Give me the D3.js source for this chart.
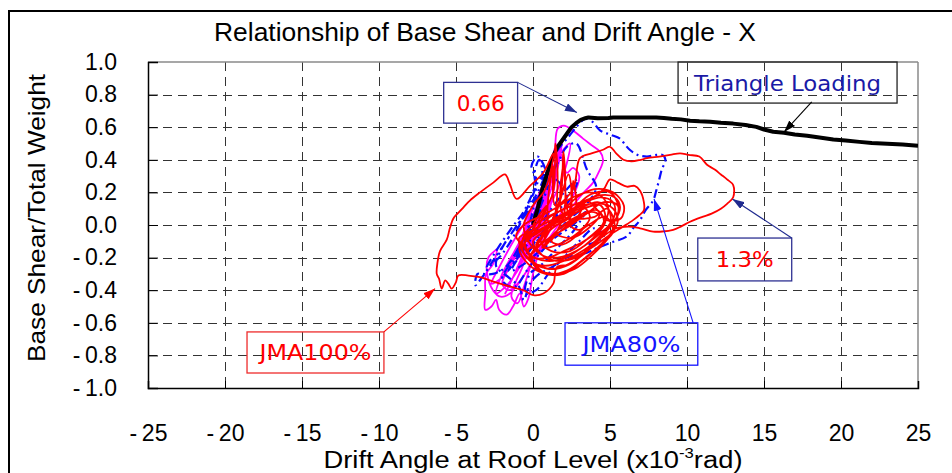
<!DOCTYPE html>
<html>
<head>
<meta charset="utf-8">
<script src="https://cdn.jsdelivr.net/npm/d3@7/dist/d3.min.js"></script>
<style>
  html, body { margin: 0; padding: 0; background: #fff; }
  svg { display: block; }
  text { font-family: "Liberation Sans", Arial, sans-serif; }
  .note { font-family: "DejaVu Sans", Verdana, sans-serif; }
</style>
</head>
<body>
<svg id="chart" width="952" height="473"></svg>
<script>
// Axis ticks
const xTicks = [-25, -20, -15, -10, -5, 0, 5, 10, 15, 20, 25];
const yTicks = [-1.0, -0.8, -0.6, -0.4, -0.2, 0.0, 0.2, 0.4, 0.6, 0.8, 1.0];

// Pushover curve under triangular lateral loading [drift (x10^-3 rad), base shear / weight]
const pushover = [
  [0, 0], [0.15, 0.05], [0.3, 0.1], [0.45, 0.16], [0.6, 0.22], [0.8, 0.28], [1.0, 0.34],
  [1.3, 0.42], [1.6, 0.48], [1.9, 0.52], [2.2, 0.56], [2.5, 0.6], [2.8, 0.625], [3.1, 0.645],
  [3.4, 0.655], [3.6, 0.66], [4.2, 0.655], [4.9, 0.657], [5.2, 0.66], [5.8, 0.66], [6.6, 0.66],
  [7.4, 0.66], [8.0, 0.66], [8.5, 0.657], [9.0, 0.652], [9.6, 0.648], [10.2, 0.64], [10.8, 0.636],
  [11.5, 0.634], [12.2, 0.627], [13.0, 0.622], [13.8, 0.614], [14.5, 0.602], [15.0, 0.586],
  [15.6, 0.572], [16.3, 0.566], [17.0, 0.555], [17.8, 0.547], [18.6, 0.537], [19.5, 0.524],
  [20.3, 0.518], [21.2, 0.51], [22.0, 0.503], [23.0, 0.499], [24.0, 0.494], [25.0, 0.486]
];

// JMA 100% response history
const jma100 = [
  [0, 0], [0.4, 0.06], [0.9, 0.12], [0.6, 0.04], [0, -0.06], [-0.4, -0.1], [-0.1, -0.04],
  [0.7, 0.08], [1.3, 0.2], [1.45, 0.5], [1.6, 0.28], [1.4, 0.05], [0.8, -0.08], [0.1, -0.16],
  [-0.3, -0.2], [0.3, -0.12], [1.2, 0.02], [1.8, 0.18], [1.97, 0.45], [2.1, 0.25], [2.0, 0.06],
  [1.4, -0.06], [0.6, -0.14], [0.9, -0.04], [1.6, 0.1], [2.3, 0.31], [2.5, 0.18], [2.2, 0.04],
  [1.8, 0.1], [2.0, 0.38], [2.15, 0.15], [2.4, 0.02], [2.6, 0.27], [2.7, 0.08], [1.1, 0.0],
  [1.3, 0.36], [1.45, 0.12],
  [2.6, 0.22], [3.05, 0.41], [3.8, 0.44], [4.5, 0.46], [5.0, 0.48], [5.4, 0.44], [5.87, 0.4],
  [6.4, 0.39], [7.0, 0.4], [7.4, 0.41], [8.2, 0.42], [8.9, 0.43], [9.55, 0.44], [10.1, 0.43],
  [10.8, 0.42], [11.3, 0.37], [11.8, 0.34], [12.2, 0.31], [12.6, 0.28], [13.0, 0.245],
  [13.0, 0.17], [12.6, 0.13], [12.2, 0.1], [11.6, 0.07], [11.0, 0.05], [10.2, 0.02],
  [9.6, -0.01], [9.1, -0.03], [8.4, -0.04], [7.8, -0.04], [6.95, -0.02], [6.2, -0.01],
  [5.4, -0.02], [4.4, -0.08], [3.2, -0.16], [2.0, -0.22], [0.8, -0.25], [-0.2, -0.22],
  [-0.7, -0.14], [-0.5, -0.05], [0.4, 0.02], [1.6, 0.08], [2.8, 0.13], [3.9, 0.17], [4.6, 0.22],
  [5.0, 0.28], [5.5, 0.26], [6.1, 0.235], [6.6, 0.24], [6.95, 0.21], [7.2, 0.14], [7.2, 0.09],
  [6.9, 0.06], [6.5, 0.03], [5.85, -0.01], [5.0, -0.06], [3.8, -0.14], [2.6, -0.2], [1.5, -0.22],
  [0.5, -0.18], [-0.3, -0.1], [-0.6, 0.0], [0.0, 0.12], [0.8, 0.22], [1.32, 0.44], [0.67, 0.32],
  [-0.2, 0.24], [-1.06, 0.16], [-1.5, 0.25], [-1.82, 0.31], [-2.58, 0.26], [-3.44, 0.2],
  [-4.1, 0.15], [-4.5, 0.11], [-4.9, 0.07], [-5.17, 0.04], [-5.4, -0.02], [-5.6, -0.09],
  [-6.04, -0.16], [-6.2, -0.23], [-6.25, -0.3], [-6.1, -0.33], [-5.93, -0.39], [-5.7, -0.34],
  [-5.5, -0.36], [-5.28, -0.39], [-5.0, -0.35], [-4.85, -0.31], [-4.2, -0.31], [-3.44, -0.32],
  [-2.8, -0.34], [-2.14, -0.36], [-1.4, -0.38], [-0.63, -0.4], [0.02, -0.43], [0.67, -0.42],
  [1.32, -0.36], [1.54, -0.26], [2.4, -0.24], [3.6, -0.14], [4.6, -0.04], [5.3, 0.06],
  [5.2, 0.14], [4.4, 0.17], [3.4, 0.14], [2.2, 0.08], [1.0, 0.02], [0.0, -0.03], [-0.9, -0.08],
  [-0.6, -0.17], [0.2, -0.24], [1.2, -0.27], [2.4, -0.24], [3.6, -0.15], [4.6, -0.05],
  [5.4, 0.04], [5.65, 0.11], [5.3, 0.17], [4.2, 0.18], [3.0, 0.12], [1.8, 0.05], [0.6, -0.02],
  [-0.5, -0.08], [-0.8, -0.12], [-0.4, -0.2], [0.6, -0.26], [1.8, -0.26], [3.0, -0.2],
  [4.2, -0.1], [5.1, 0.0], [5.6, 0.09], [5.0, 0.2], [3.8, 0.19], [2.6, 0.1], [1.4, 0.02],
  [0.3, -0.05], [-0.5, -0.1], [-0.2, -0.18], [0.9, -0.22], [2.1, -0.2], [3.3, -0.13],
  [4.5, -0.04], [5.4, 0.04], [5.5, 0.12], [4.6, 0.14], [3.5, 0.07], [2.3, -0.01], [1.2, -0.07],
  [0.3, -0.13], [-0.3, -0.15], [0.3, -0.27], [1.4, -0.3], [2.7, -0.27], [3.9, -0.18],
  [4.9, -0.08], [5.5, 0.02], [5.2, 0.1], [4.5, 0.13], [3.3, 0.1], [2.2, 0.04], [1.0, -0.04],
  [0.2, -0.12], [0.8, -0.2], [2.0, -0.22], [3.2, -0.18], [4.2, -0.1], [5.0, 0.0], [4.9, 0.1],
  [4.2, 0.14], [3.0, 0.1], [1.8, 0.04], [0.7, -0.04], [0.0, -0.1], [0.5, -0.18], [1.6, -0.2],
  [2.8, -0.16], [3.9, -0.08], [4.7, 0.02], [4.4, 0.12], [3.2, 0.12], [2.0, 0.05], [0.9, -0.02],
  [0.5, -0.1], [1.2, -0.16], [2.4, -0.16], [3.6, -0.08], [4.6, 0.02], [4.2, 0.09], [3.0, 0.06],
  [2.0, 0.0], [1.5, -0.05], [2.5, -0.08], [3.6, -0.02], [4.3, 0.06], [3.8, 0.08], [3.0, 0.04],
  [4.0, 0.05], [4.8, 0.1], [5.3, 0.0], [4.6, -0.1], [3.4, -0.2], [2.2, -0.28], [1.0, -0.3],
  [0.2, -0.25], [-0.4, -0.15], [-1.1, -0.07], [-0.6, 0.0], [0.4, 0.05], [1.4, 0.1], [2.6, 0.17],
  [3.6, 0.2], [4.4, 0.18], [4.9, 0.1], [4.4, -0.02], [3.3, -0.1], [2.0, -0.16], [1.0, -0.2],
  [0.0, -0.2], [-0.6, -0.12], [0.1, -0.05], [1.2, 0.0], [2.3, 0.05], [3.1, 0.12], [3.7, 0.05],
  [3.0, -0.05], [1.9, -0.12], [1.2, -0.1], [2.0, -0.02], [2.9, 0.05], [3.5, 0.15], [4.1, 0.1],
  [4.8, 0.03], [5.7, 0.04], [5.9, 0.12], [5.2, 0.2], [4.0, 0.22], [3.0, 0.18], [2.0, 0.1],
  [1.1, 0.05], [0.3, -0.02], [-0.4, -0.06], [-0.9, -0.14], [-0.3, -0.24], [0.8, -0.3],
  [2.0, -0.3], [3.2, -0.22], [4.4, -0.12], [5.2, -0.04], [4.7, 0.05], [3.6, 0.0], [2.6, -0.07],
  [1.6, -0.12], [0.7, -0.14], [1.4, -0.05], [2.4, 0.02], [3.3, 0.06], [2.4, 0.0], [3.0, -0.03],
  [3.6, 0.02]
];

// JMA 80% response history
const jma80 = [
  [0, 0], [0.5, 0.1], [0.2, 0.02], [-0.4, -0.1], [-0.9, -0.16], [-0.3, -0.06], [0.5, 0.12],
  [1.0, 0.24], [0.6, 0.14], [-0.2, -0.04], [-1.0, -0.2], [-1.6, -0.28], [-1.0, -0.18],
  [-0.2, 0.02], [0.2, 0.2], [0.1, 0.32], [0.4, 0.4], [0.6, 0.34], [0.5, 0.2], [0.0, 0.04],
  [-0.8, -0.12], [-1.8, -0.26], [-2.6, -0.3], [-3.3, -0.3], [-3.6, -0.3], [-3.75, -0.37],
  [-3.3, -0.32], [-2.6, -0.22], [-1.6, -0.08], [-0.6, 0.06], [0.3, 0.2], [1.0, 0.35],
  [1.6, 0.46], [2.3, 0.54], [2.8, 0.6], [3.2, 0.64], [3.5, 0.655], [3.9, 0.63], [4.35, 0.58],
  [5.0, 0.555], [5.65, 0.53], [6.0, 0.49], [6.3, 0.46], [6.8, 0.43], [7.4, 0.42], [8.0, 0.43],
  [8.4, 0.43], [8.6, 0.4], [8.36, 0.34], [8.2, 0.28], [8.0, 0.21], [7.8, 0.15], [7.3, 0.09],
  [6.95, 0.03], [6.5, -0.02], [6.1, -0.07], [5.0, -0.11], [4.2, -0.14], [3.5, -0.17],
  [2.2, -0.2], [1.2, -0.26], [0.4, -0.3], [-0.2, -0.36], [-0.6, -0.46], [-0.9, -0.38],
  [-1.6, -0.32], [-2.4, -0.25], [-2.0, -0.14], [-1.0, 0.0], [0.0, 0.12], [0.8, 0.25],
  [1.6, 0.38], [2.2, 0.48], [2.8, 0.5], [3.5, 0.34], [4.1, 0.23], [3.4, 0.12], [2.4, 0.04],
  [1.4, -0.06], [0.4, -0.16], [-0.6, -0.24], [-1.4, -0.28], [-0.8, -0.18], [0.2, -0.04],
  [1.2, 0.1], [2.2, 0.22], [2.9, 0.28], [2.4, 0.16], [1.4, 0.04], [0.4, -0.08], [-0.4, -0.18],
  [0.0, -0.12], [0.8, -0.02], [1.6, 0.08], [2.2, 0.18], [1.2, 0.3], [0.6, 0.3], [-0.2, 0.14],
  [-1.2, -0.06], [-2.2, -0.2], [-3.0, -0.26], [-2.4, -0.16], [-1.4, -0.02], [-0.5, 0.1],
  [0.2, 0.28], [-0.1, 0.36], [0.3, 0.42], [0.9, 0.3], [0.4, 0.12], [-0.6, -0.08], [-1.4, -0.22],
  [-2.0, -0.34], [-1.2, -0.38], [-0.4, -0.28], [0.4, -0.18], [1.4, -0.08], [2.6, 0.0],
  [3.4, 0.08], [2.6, -0.04], [1.6, -0.14], [0.6, -0.24], [-0.2, -0.3], [-0.5, -0.42],
  [0.2, -0.4], [1.0, -0.3], [2.0, -0.2], [3.0, -0.1], [4.0, -0.02], [4.6, -0.07], [3.6, -0.12]
];

// Third record (magenta trace)
const record3 = [
  [0, 0], [0.5, 0.1], [1.0, 0.2], [0.6, 0.08], [-0.2, -0.1], [-0.8, -0.22], [-0.4, -0.12],
  [0.4, 0.08], [1.2, 0.3], [1.6, 0.42], [1.3, 0.3], [0.4, 0.05], [-0.6, -0.2], [-1.4, -0.34],
  [-1.8, -0.42], [-1.2, -0.3], [0.0, -0.02], [0.9, 0.25], [1.4, 0.45], [1.6, 0.59], [2.0, 0.61],
  [2.6, 0.58], [3.25, 0.53], [3.8, 0.49], [4.35, 0.45], [4.55, 0.4], [4.3, 0.33], [3.9, 0.26],
  [3.3, 0.2], [2.6, 0.12], [1.8, 0.02], [0.9, -0.1], [0.0, -0.22], [-0.8, -0.34], [-1.5, -0.42],
  [-2.1, -0.44], [-2.6, -0.4], [-3.0, -0.28], [-2.9, -0.2], [-2.5, -0.16], [-2.35, -0.15],
  [-2.6, -0.24], [-3.05, -0.3], [-3.1, -0.42], [-3.1, -0.52], [-2.7, -0.5], [-2.4, -0.46],
  [-2.2, -0.52], [-1.7, -0.55], [-1.3, -0.5], [-0.85, -0.42], [-0.6, -0.5], [-0.3, -0.45],
  [0.0, -0.3], [0.5, -0.12], [1.1, 0.1], [1.5, 0.3], [1.7, 0.48], [1.9, 0.4], [2.2, 0.32],
  [2.6, 0.35], [3.0, 0.3], [2.6, 0.18], [2.0, 0.1], [1.2, -0.02], [0.4, -0.15], [-0.4, -0.28],
  [-1.0, -0.36], [-1.6, -0.4], [-2.0, -0.36], [-1.4, -0.24], [-0.6, -0.1], [0.2, 0.06],
  [0.9, 0.2], [1.3, 0.35], [1.0, 0.25], [0.4, 0.12], [-0.2, -0.02], [-0.8, -0.16], [-1.1, -0.22],
  [-0.6, -0.16], [0.2, -0.04], [0.8, 0.08], [1.2, 0.16], [1.4, 0.3], [1.9, 0.52], [1.6, 0.35],
  [0.8, 0.12], [-0.2, -0.12], [-1.0, -0.28], [-1.8, -0.38], [-2.4, -0.42], [-2.0, -0.3],
  [-1.2, -0.16], [-0.3, 0.0], [0.5, 0.18], [1.1, 0.36], [1.5, 0.5], [1.2, 0.4], [0.6, 0.24],
  [-0.1, 0.08], [-0.6, -0.04], [-1.3, -0.2], [-2.0, -0.32], [-2.7, -0.36], [-2.2, -0.26],
  [-1.4, -0.12], [-0.4, 0.04], [0.3, 0.16], [0.9, 0.28], [1.8, 0.44], [2.4, 0.5], [2.2, 0.38],
  [1.6, 0.22], [0.8, 0.06], [0.0, -0.1], [-0.7, -0.26], [-1.4, -0.44], [-1.0, -0.48],
  [-0.6, -0.38], [0.0, -0.2], [0.6, -0.02], [1.2, 0.14], [0.9, 0.05], [0.3, -0.06],
  [-0.3, -0.14], [0.2, -0.08], [0.8, 0.02]
];

// Callouts: label, box corners [x0, y0, x1, y1] and arrow [from, to] in data units
const callouts = [
  { text: "0.66", box: [-5.8, 0.875, -1.0, 0.625], arrow: [[-1.0, 0.875], [2.85, 0.69]],
    textColor: "#ff0000", boxColor: "#2e3192", arrowColor: "#1f2a8f", fill: "#fff", len: 48 },
  { text: "Triangle Loading", box: [9.42, 1.0, 23.64, 0.748], arrow: [[18.1, 0.755], [16.3, 0.57]],
    textColor: "#1a1aa6", boxColor: "#222", arrowColor: "#000", fill: "none", len: 187 },
  { text: "1.3%", box: [10.7, -0.08, 16.8, -0.343], arrow: [[16.8, -0.08], [12.95, 0.16]],
    textColor: "#ff0000", boxColor: "#2e3192", arrowColor: "#1f2a8f", fill: "none", len: 58 },
  { text: "JMA80%", box: [2.08, -0.6, 10.7, -0.86], arrow: [[10.4, -0.6], [7.86, 0.16]],
    textColor: "#1414ff", boxColor: "#1414ff", arrowColor: "#1414ff", fill: "none", len: 98 },
  { text: "JMA100%", box: [-18.57, -0.656, -9.68, -0.908], arrow: [[-9.68, -0.656], [-6.36, -0.39]],
    textColor: "#ff0000", boxColor: "#ee2b2b", arrowColor: "#ff0000", fill: "none", len: 112 }
];

const svg = d3.select("#chart");
const x = d3.scaleLinear().domain([-25, 25]).range([148, 918]);
const y = d3.scaleLinear().domain([-1, 1]).range([388, 62]);

// outer frame
svg.append("rect").attr("x", 9).attr("y", 11).attr("width", 1000).attr("height", 520)
  .attr("fill", "none").attr("stroke", "#000").attr("stroke-width", 2);

// title
svg.append("text").attr("x", 485).attr("y", 41).attr("text-anchor", "middle")
  .attr("font-size", 25).attr("textLength", 542).attr("lengthAdjust", "spacingAndGlyphs")
  .text("Relationship of Base Shear and Drift Angle - X");

// grid
const grid = svg.append("g").attr("stroke", "#333").attr("stroke-width", 1)
  .attr("stroke-dasharray", "9,6").attr("fill", "none");
grid.selectAll(".gx").data(xTicks.slice(1, -1)).join("line")
  .attr("x1", d => Math.round(x(d)) + 0.5).attr("x2", d => Math.round(x(d)) + 0.5)
  .attr("y1", y(1)).attr("y2", y(-1));
grid.selectAll(".gy").data(yTicks.slice(1, -1)).join("line")
  .attr("y1", d => Math.round(y(d)) + 0.5).attr("y2", d => Math.round(y(d)) + 0.5)
  .attr("x1", x(-25)).attr("x2", x(25));

// plot frame
svg.append("line").attr("x1", x(-25)).attr("x2", x(25)).attr("y1", y(1)).attr("y2", y(1))
  .attr("stroke", "#8a8a8a").attr("stroke-width", 1.5);
svg.append("line").attr("x1", x(25)).attr("x2", x(25)).attr("y1", y(1)).attr("y2", y(-1))
  .attr("stroke", "#8a8a8a").attr("stroke-width", 1.5);

// axes
const neg = "-\u2009";
const yAxis = d3.axisLeft(y).tickValues(yTicks).tickSize(-10).tickPadding(31)
  .tickFormat(d => (d < 0 ? neg : "") + Math.abs(d).toFixed(1));
const gy = svg.append("g").attr("transform", `translate(${x(-25)},0)`).call(yAxis);
const xAxis = d3.axisBottom(x).tickValues(xTicks).tickSize(-7).tickPadding(38)
  .tickFormat(d => (d < 0 ? neg : "") + Math.abs(d));
const gx = svg.append("g").attr("transform", `translate(0,${y(-1)})`).call(xAxis);
[gx, gy].forEach(g => {
  g.select(".domain").attr("stroke", "#000").attr("stroke-width", 1.5);
  g.selectAll(".tick line").attr("stroke", "#000");
  g.selectAll("text").attr("font-size", 23).attr("fill", "#000")
    .attr("font-family", "'Liberation Sans', Arial, sans-serif");
});
gx.selectAll("text").attr("dy", "0.66em");

// axis titles
svg.append("text").attr("transform", "translate(45,218) rotate(-90)")
  .attr("text-anchor", "middle").attr("font-size", 24)
  .attr("textLength", 288).attr("lengthAdjust", "spacingAndGlyphs")
  .text("Base Shear/Total Weight");
const xt = svg.append("text").attr("x", 533).attr("y", 468).attr("text-anchor", "middle")
  .attr("font-size", 23).attr("textLength", 419).attr("lengthAdjust", "spacingAndGlyphs");
xt.append("tspan").text("Drift Angle at Roof Level (x10");
xt.append("tspan").attr("font-size", 14).attr("dy", -10).text("-3");
xt.append("tspan").attr("dy", 10).text("rad)");

// response traces
svg.append("clipPath").attr("id", "plotclip").append("rect")
  .attr("x", x(-25)).attr("y", y(1)).attr("width", x(25) - x(-25)).attr("height", y(-1) - y(1));
const smooth = d3.line().x(d => x(d[0])).y(d => y(d[1])).curve(d3.curveCatmullRom.alpha(0.5));
const straight = d3.line().x(d => x(d[0])).y(d => y(d[1]));
const plot = svg.append("g").attr("clip-path", "url(#plotclip)").attr("fill", "none")
  .attr("stroke-linejoin", "round");

plot.append("path").attr("d", smooth(record3)).attr("stroke", "#ff00ff").attr("stroke-width", 1.8);
plot.append("path").attr("d", smooth(jma80)).attr("stroke", "#0a0aff").attr("stroke-width", 2.2)
  .attr("stroke-dasharray", "9,4,2,4");
plot.append("path").attr("d", straight(pushover)).attr("stroke", "#000").attr("stroke-width", 4);
plot.append("path").attr("d", smooth(jma100)).attr("stroke", "#ff0000").attr("stroke-width", 1.8);

// arrow markers
const defs = svg.append("defs");
callouts.forEach((c, i) => {
  defs.append("marker").attr("id", "arr" + i).attr("viewBox", "0 0 12 8")
    .attr("refX", 12).attr("refY", 4).attr("markerWidth", 12).attr("markerHeight", 8)
    .attr("markerUnits", "userSpaceOnUse").attr("orient", "auto")
    .append("path").attr("d", "M0,0 L12,4 L0,8 Z").attr("fill", c.arrowColor);
});

// callouts
const notes = svg.append("g");
callouts.forEach((c, i) => {
  const [x0, y0, x1, y1] = c.box;
  notes.append("rect").attr("x", x(x0)).attr("y", y(y0))
    .attr("width", x(x1) - x(x0)).attr("height", y(y1) - y(y0))
    .attr("fill", c.fill).attr("stroke", c.boxColor).attr("stroke-width", 1.3);
  notes.append("line")
    .attr("x1", x(c.arrow[0][0])).attr("y1", y(c.arrow[0][1]))
    .attr("x2", x(c.arrow[1][0])).attr("y2", y(c.arrow[1][1]))
    .attr("stroke", c.arrowColor).attr("stroke-width", 1.1)
    .attr("marker-end", `url(#arr${i})`);
  notes.append("text").attr("class", "note")
    .attr("x", (x(x0) + x(x1)) / 2).attr("y", (y(y0) + y(y1)) / 2 + 8)
    .attr("text-anchor", "middle").attr("font-size", 22).attr("fill", c.textColor)
    .attr("textLength", c.len).attr("lengthAdjust", "spacingAndGlyphs")
    .text(c.text);
});
</script>
</body>
</html>
